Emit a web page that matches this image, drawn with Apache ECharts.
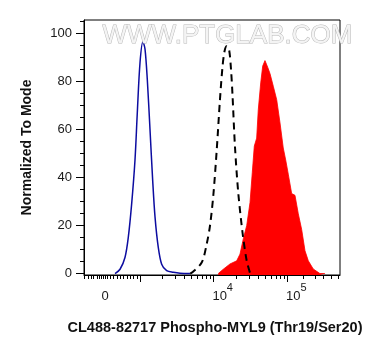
<!DOCTYPE html>
<html>
<head>
<meta charset="utf-8">
<script src="https://cdn.jsdelivr.net/npm/echarts@6/dist/echarts.min.js"></script>
<style>html,body{margin:0;padding:0;background:#fff}#c{width:378px;height:356px}</style>
</head>
<body>
<div id="c"></div>
<script>
// x values are in display "decade" units of the logicle axis (3 = 10^3, 4 = 10^4, 5 = 10^5)
var blueX = [2.661, 2.729, 2.796, 2.841, 2.887, 2.932, 2.963, 3.0, 3.04, 3.068, 3.099, 3.136, 3.172, 3.204, 3.248, 3.294, 3.362, 3.452, 3.543, 3.678];
var blueY = [0, 1.8, 6.7, 15.1, 29.1, 47.3, 66.8, 87.8, 96.5, 93.5, 80.8, 59.8, 38.8, 23.5, 10.9, 3.9, 1.2, 0.5, 0.1, 0];
var dashX = [3.68, 3.701, 3.837, 3.905, 3.950, 3.995, 4.041, 4.085, 4.119, 4.147, 4.176, 4.208, 4.235, 4.255, 4.289, 4.334, 4.393, 4.448, 4.493];
var dashY = [0, 0.3, 4.6, 12.3, 20, 32.6, 51.4, 72.4, 85.9, 92.6, 94.7, 93.4, 85, 74.5, 52.7, 33.4, 16.6, 5.3, 0.2];
var redX = [4.062, 4.130, 4.221, 4.312, 4.357, 4.402, 4.448, 4.493, 4.524, 4.551, 4.583, 4.605, 4.638, 4.665, 4.696, 4.733, 4.764, 4.809, 4.855, 4.900, 4.944, 4.977, 5.012, 5.058, 5.103, 5.148, 5.194, 5.239, 5.284, 5.351, 5.442, 5.510];
var redY = [0, 1.8, 4.0, 5.3, 8.1, 14.5, 20, 29.6, 42.2, 53.1, 56.4, 68.2, 79.4, 86.4, 88.7, 85.9, 83.3, 78, 72.4, 62.7, 52.3, 47.3, 41.4, 33.3, 32.6, 24.9, 18.3, 9.5, 5.3, 1.9, 0, 0];

var xMajorTicks = [3, 4, 5];
var xMinorTicks = [2.250, 2.294, 2.335, 2.372, 2.417, 2.444, 2.471, 2.498, 2.525, 2.552, 2.597, 2.643, 2.688, 2.733, 2.779, 2.824, 2.868, 2.915, 2.959,
  3.301, 3.477, 3.602, 3.699, 3.778, 3.845, 3.903, 3.954,
  4.301, 4.477, 4.602, 4.699, 4.778, 4.845, 4.903, 4.954,
  5.212, 5.374, 5.490, 5.592, 5.691];
var xLabelValues = [2.525, 4, 5];
var xLabelBase = ['0', '10', '10'];
var xLabelExp = ['', '4', '5'];
var yMajorTicks = [0, 20, 40, 60, 80, 100];
var yMinorTicks = [5, 10, 15, 25, 30, 35, 45, 50, 55, 65, 70, 75, 85, 90, 95, 105];

var X_MIN = 2.240, X_MAX = 5.714, Y_MIN = -0.6, Y_MAX = 105.6;

function pairs(xs, ys) { return xs.map(function (x, i) { return [x, ys[i]]; }); }

var FONT = 'Liberation Sans, Arial, sans-serif';
var chart = echarts.init(document.getElementById('c'), null, {renderer: 'canvas'});
chart.setOption({
  animation: false,
  backgroundColor: '#fff',
  grid: {left: 84, top: 20, width: 256, height: 255, show: true, borderColor: '#000', borderWidth: 1, backgroundColor: '#fff'},
  xAxis: [{
    type: 'value', min: X_MIN, max: X_MAX, position: 'bottom',
    axisLine: {show: true, onZero: false, lineStyle: {color: '#000', width: 1}},
    splitLine: {show: false},
    axisTick: {show: true, length: 7, customValues: xMajorTicks, lineStyle: {color: '#000', width: 1}},
    axisLabel: {
      customValues: xLabelValues, margin: 6, color: '#1a1a1a', fontFamily: FONT,
      formatter: function (v) {
        for (var i = 0; i < xLabelValues.length; i++) {
          if (Math.abs(xLabelValues[i] - v) < 1e-6) {
            return xLabelExp[i] ? '{bp|' + xLabelBase[i] + '}{s|' + xLabelExp[i] + '}' : '{b|' + xLabelBase[i] + '}';
          }
        }
        return '';
      },
      rich: {
        b: {fontSize: 13, fontFamily: FONT, color: '#1a1a1a', padding: [9, 0, 0, 0]},
        bp: {fontSize: 13, fontFamily: FONT, color: '#1a1a1a', padding: [9, 0, 0, 18]},
        s: {fontSize: 11, fontFamily: FONT, color: '#1a1a1a', padding: [0, 0, 9, 0]}
      }
    },
    name: 'CL488-82717 Phospho-MYL9 (Thr19/Ser20)',
    nameLocation: 'middle', nameGap: 45,
    nameTextStyle: {fontSize: 14.5, fontWeight: 'bold', color: '#111', fontFamily: FONT, padding: [0, 0, 0, 6]}
  }, {
    type: 'value', min: X_MIN, max: X_MAX, position: 'bottom',
    axisLine: {show: false, onZero: false},
    splitLine: {show: false},
    axisTick: {show: true, length: 4, customValues: xMinorTicks, lineStyle: {color: '#000', width: 1}},
    axisLabel: {show: false}
  }],
  yAxis: [{
    type: 'value', min: Y_MIN, max: Y_MAX, position: 'left',
    axisLine: {show: true, onZero: false, lineStyle: {color: '#000', width: 1}},
    splitLine: {show: false},
    axisTick: {show: true, length: 8, customValues: yMajorTicks, lineStyle: {color: '#000', width: 1}},
    axisLabel: {customValues: yMajorTicks, margin: 12, fontSize: 13, color: '#1a1a1a', fontFamily: FONT},
    name: 'Normalized To Mode', nameLocation: 'middle', nameGap: 50,
    nameTextStyle: {fontSize: 14, fontWeight: 'bold', color: '#111', fontFamily: FONT}
  }, {
    type: 'value', min: Y_MIN, max: Y_MAX, position: 'left',
    axisLine: {show: false, onZero: false},
    splitLine: {show: false},
    axisTick: {show: true, length: 4, customValues: yMinorTicks, lineStyle: {color: '#000', width: 1}},
    axisLabel: {show: false}
  }],
  series: [{
    type: 'line', data: pairs(redX, redY), xAxisIndex: 0, yAxisIndex: 0,
    symbol: 'none', lineStyle: {width: 0.8, color: '#ff0000'},
    areaStyle: {color: '#ff0000', opacity: 1, origin: 'start'}, z: 2
  }, {
    type: 'line', data: pairs(blueX, blueY), xAxisIndex: 0, yAxisIndex: 0,
    symbol: 'none', smooth: 0.3, lineStyle: {width: 1.5, color: '#0c0ca0'}, z: 3
  }, {
    type: 'line', data: pairs(dashX, dashY), xAxisIndex: 0, yAxisIndex: 0,
    symbol: 'none', smooth: 0.3, lineStyle: {width: 2, color: '#000', type: [7, 5]}, z: 4
  }],
  graphic: [{
    type: 'text', left: 102, top: 22, z: 100,
    style: {text: 'WWW.PTGLAB.COM', fontSize: 26, fontFamily: FONT, fill: '#f4f4f4', stroke: '#b8b8b8', lineWidth: 1}
  }]
});
</script>
</body>
</html>
